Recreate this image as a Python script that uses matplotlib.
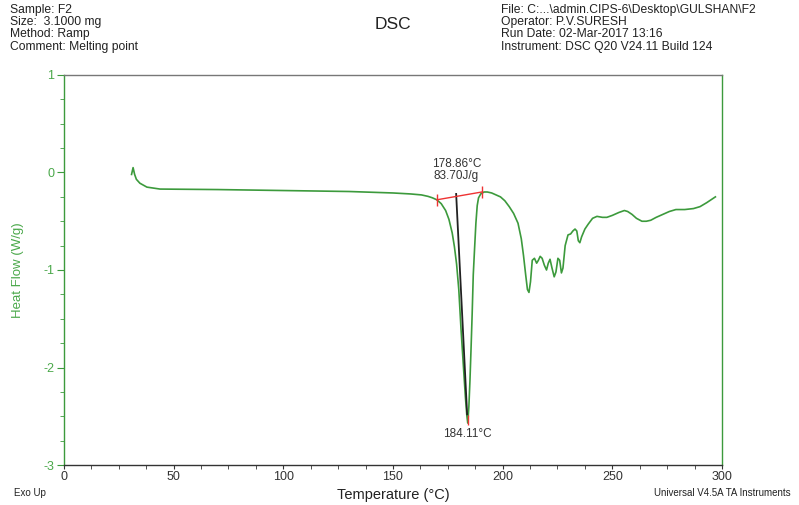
import matplotlib.pyplot as plt
from matplotlib.ticker import MultipleLocator

GREEN = "#3c9a3c"
LABEL_GREEN = "#4aa84a"

# DSC trace
temp = [30.8, 31.5, 32.2, 33, 34.6, 37.8, 43.8, 70, 100, 130, 150, 158, 163, 166,
        168, 170, 172, 174, 175.5, 177, 178, 179, 180, 181, 182, 183, 183.7, 184.1,
        184.6, 185.1, 185.6, 186.1, 186.6, 187.2, 187.8, 188.4, 189, 190, 191.5, 193,
        195, 197, 199, 201, 203, 205, 207, 208.5, 209.5, 210.5, 211.3, 212, 212.7,
        213.5, 214.5, 215.5, 216.3, 217.1, 218, 219, 220, 220.8, 221.6, 222.5, 223.5,
        224.3, 225.2, 226, 226.8, 227.5, 228.5, 229.8, 231, 232, 233, 233.8, 234.5,
        235.2, 236, 237.5, 239, 241, 243, 245.5, 247.5, 250, 253, 255.5, 257, 259,
        261, 263.5, 265.5, 267.5, 270, 273, 276, 279, 283, 287, 290, 293, 297]
heat_flow = [-0.02, 0.05, -0.02, -0.07, -0.11, -0.15, -0.17, -0.175, -0.185, -0.195,
             -0.21, -0.22, -0.23, -0.245, -0.26, -0.28, -0.32, -0.39, -0.48, -0.62,
             -0.76, -0.94, -1.2, -1.6, -1.95, -2.3, -2.5, -2.57, -2.4, -2.13, -1.8,
             -1.45, -1.05, -0.78, -0.52, -0.34, -0.26, -0.22, -0.2, -0.2, -0.21,
             -0.23, -0.25, -0.29, -0.35, -0.42, -0.52, -0.68, -0.85, -1.05, -1.2,
             -1.23, -1.12, -0.9, -0.88, -0.93, -0.9, -0.86, -0.88, -0.95, -1.0,
             -0.93, -0.89, -0.98, -1.07, -1.02, -0.88, -0.9, -1.03, -0.98, -0.75,
             -0.64, -0.63, -0.6, -0.58, -0.6, -0.7, -0.72, -0.66, -0.58, -0.53,
             -0.47, -0.45, -0.46, -0.46, -0.44, -0.41, -0.39, -0.40, -0.43, -0.47,
             -0.5, -0.5, -0.49, -0.46, -0.43, -0.4, -0.38, -0.38, -0.37, -0.35,
             -0.31, -0.25]

# peak analysis
baseline_t = [170, 190.5]
baseline_hf = [-0.28, -0.2]
tangent_t = [178.8, 183.8]
tangent_hf = [-0.22, -2.48]
onset_label = "178.86°C\n83.70J/g"
peak_t, peak_hf = 184.11, -2.57
peak_label = "184.11°C"

plt.rcParams["font.family"] = ["Liberation Sans", "DejaVu Sans"]
plt.rcParams["axes.unicode_minus"] = False

fig = plt.figure(figsize=(7.99, 5.05), dpi=100)
ax = fig.add_axes([0.0801, 0.0792, 0.8235, 0.7723])

ax.plot(temp, heat_flow, color=GREEN, lw=1.2)
ax.plot(tangent_t, tangent_hf, color="#222222", lw=1.3)
ax.plot(baseline_t, baseline_hf, color="#ee3333", lw=1.0, marker="|", ms=9, mew=1.0)
ax.plot([peak_t], [peak_hf + 0.03], color="#ee3333", marker="|", ms=7, mew=1.0)

ax.text(178.86, -0.1, onset_label, ha="center", va="bottom", fontsize=8.5,
        color="#333333", linespacing=1.0)
ax.text(peak_t, peak_hf - 0.05, peak_label, ha="center", va="top", fontsize=8.5,
        color="#333333")

ax.set_xlim(0, 300)
ax.set_ylim(-3, 1)
ax.xaxis.set_major_locator(MultipleLocator(50))
ax.xaxis.set_minor_locator(MultipleLocator(12.5))
ax.yaxis.set_major_locator(MultipleLocator(1))
ax.yaxis.set_minor_locator(MultipleLocator(0.25))

ax.spines["left"].set_color(GREEN)
ax.spines["right"].set_color(GREEN)
ax.spines["top"].set_color("#777777")
ax.spines["bottom"].set_color("#333333")
for s in ax.spines.values():
    s.set_linewidth(1.0)

ax.tick_params(axis="x", which="both", direction="out", colors="#333333",
               labelsize=9, length=3, pad=1)
ax.tick_params(axis="y", which="both", direction="out", colors=GREEN,
               labelcolor=LABEL_GREEN, labelsize=9, length=3, pad=2)
ax.tick_params(axis="y", which="major", length=5)

ax.set_xlabel("Temperature (°C)", fontsize=10.5, color="#222222", labelpad=4)
ax.set_ylabel("Heat Flow (W/g)", fontsize=9.5, color=LABEL_GREEN)
ax.yaxis.set_label_coords(-0.061, 0.5)

hdr = dict(fontsize=8.7, color="#222222", va="top", linespacing=1.02)
fig.text(0.0125, 0.992, "Sample: F2\nSize:  3.1000 mg\nMethod: Ramp\nComment: Melting point", **hdr)
fig.text(0.627, 0.992, "File: C:...\\admin.CIPS-6\\Desktop\\GULSHAN\\F2\nOperator: P.V.SURESH\n"
         "Run Date: 02-Mar-2017 13:16\nInstrument: DSC Q20 V24.11 Build 124", **hdr)
fig.text(0.492, 0.952, "DSC", fontsize=12.5, color="#222222", ha="center", va="center")
fig.text(0.017, 0.024, "Exo Up", fontsize=7, color="#222222", va="center")
fig.text(0.99, 0.024, "Universal V4.5A TA Instruments", fontsize=7, color="#222222",
         ha="right", va="center")

fig.savefig("out.png", dpi=100)
